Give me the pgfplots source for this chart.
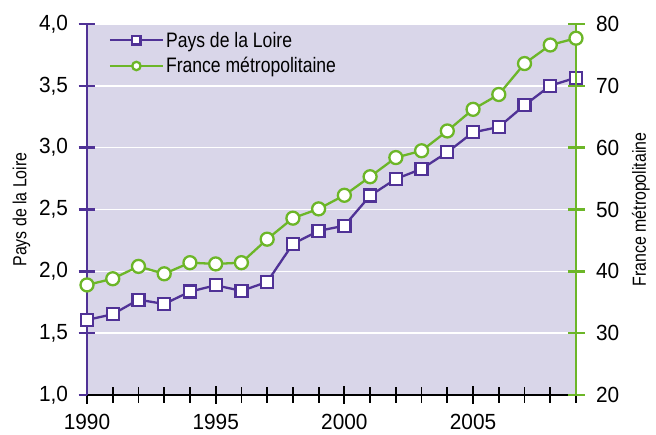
\documentclass[border=0pt]{standalone}
\usepackage{fontspec}
\setmainfont{Liberation Sans}[FakeStretch=0.84]
\newfontfamily\tickfont{Liberation Sans}[FakeStretch=0.95]
\usepackage{pgfplots}
\pgfplotsset{compat=1.18}
\definecolor{pur}{RGB}{80,50,150}
\definecolor{grn}{RGB}{108,182,40}
\definecolor{bg}{RGB}{217,214,233}
\begin{document}
\begin{tikzpicture}
\begin{axis}[name=ax, scale only axis, width=489bp, height=371bp,
  xmin=1990, xmax=2009, ymin=1, ymax=4, clip=false,
  axis x line*=bottom, axis y line*=left,
  axis background/.style={fill=bg},
  ytick={1,1.5,2,2.5,3,3.5,4},
  xtick={1990,1995,2000,2005}, minor xtick={1991,...,2009},
  ymajorgrids, grid style={white, line width=1.5bp},
  x axis line style={black, line width=1.8bp},
  y axis line style={pur, line width=2.5bp},
  xtick style={black, line width=1.8bp},
  minor x tick style={black, line width=1.8bp},
  ytick style={pur, line width=2.5bp},
  major tick length=17bp, minor tick length=15bp,
  tick align=center,
  /pgf/number format/assume math mode=true,
  yticklabel style={xshift=-7bp, /pgf/number format/.cd, fixed, fixed zerofill, precision=1, use comma},
  xticklabel style={yshift=-7bp, /pgf/number format/1000 sep={}},
  ticklabel style={font=\tickfont\fontsize{22}{24}\selectfont},
  ylabel={Pays de la Loire},
  ylabel style={font=\fontsize{19}{21}\selectfont, yshift=2bp},
  legend style={draw=none, fill=none, at={(0.04,0.99)}, anchor=north west,
    font=\fontsize{21}{23}\selectfont, row sep=5bp, inner xsep=2bp},
  legend cell align=left,
  legend image code/.code={\draw[#1] (0bp,0bp) -- (53bp,0bp);
    \draw[#1, mark size=4.2bp] plot coordinates {(26.5bp,0bp)};},
]
\addplot[pur, line width=2.3bp, mark=square*, mark size=6bp, mark options={fill=white, solid, line width=2.3bp}] coordinates {
(1990,1.607) (1991,1.653) (1992,1.771) (1993,1.736) (1994,1.836)
(1995,1.887) (1996,1.842) (1997,1.914) (1998,2.222) (1999,2.327)
(2000,2.369) (2001,2.612) (2002,2.747) (2003,2.828) (2004,2.963)
(2005,3.124) (2006,3.167) (2007,3.343) (2008,3.501) (2009,3.566)};
\addlegendentry{Pays de la Loire}
\addlegendimage{grn, line width=2.3bp, mark=*, mark size=6.5bp, mark options={fill=white, solid, line width=2.3bp}}
\addlegendentry{France métropolitaine}
\end{axis}
\begin{axis}[scale only axis, width=489bp, height=371bp,
  xmin=1990, xmax=2009, ymin=20, ymax=80, clip=false,
  axis x line=none, axis y line*=right,
  ytick={20,30,40,50,60,70,80},
  y axis line style={grn, line width=2.5bp},
  ytick style={grn, line width=2.5bp},
  major tick length=17bp,
  tick align=center,
  /pgf/number format/assume math mode=true,
  yticklabel style={xshift=8bp},
  ticklabel style={font=\tickfont\fontsize{22}{24}\selectfont},
  ylabel={France métropolitaine},
  ylabel style={font=\fontsize{19}{21}\selectfont, yshift=-6bp},
]
\addplot[grn, line width=2.3bp, mark=*, mark size=6.5bp, mark options={fill=white, solid, line width=2.3bp}] coordinates {
(1990,37.8) (1991,38.8) (1992,40.8) (1993,39.6) (1994,41.4)
(1995,41.2) (1996,41.4) (1997,45.2) (1998,48.6) (1999,50.1)
(2000,52.3) (2001,55.3) (2002,58.4) (2003,59.5) (2004,62.7)
(2005,66.2) (2006,68.6) (2007,73.6) (2008,76.6) (2009,77.7)};
\end{axis}
\pgfresetboundingbox
\path ([shift={(-87bp,-40bp)}]ax.south west) rectangle ([shift={(80bp,24bp)}]ax.north east);
\end{tikzpicture}
\end{document}
